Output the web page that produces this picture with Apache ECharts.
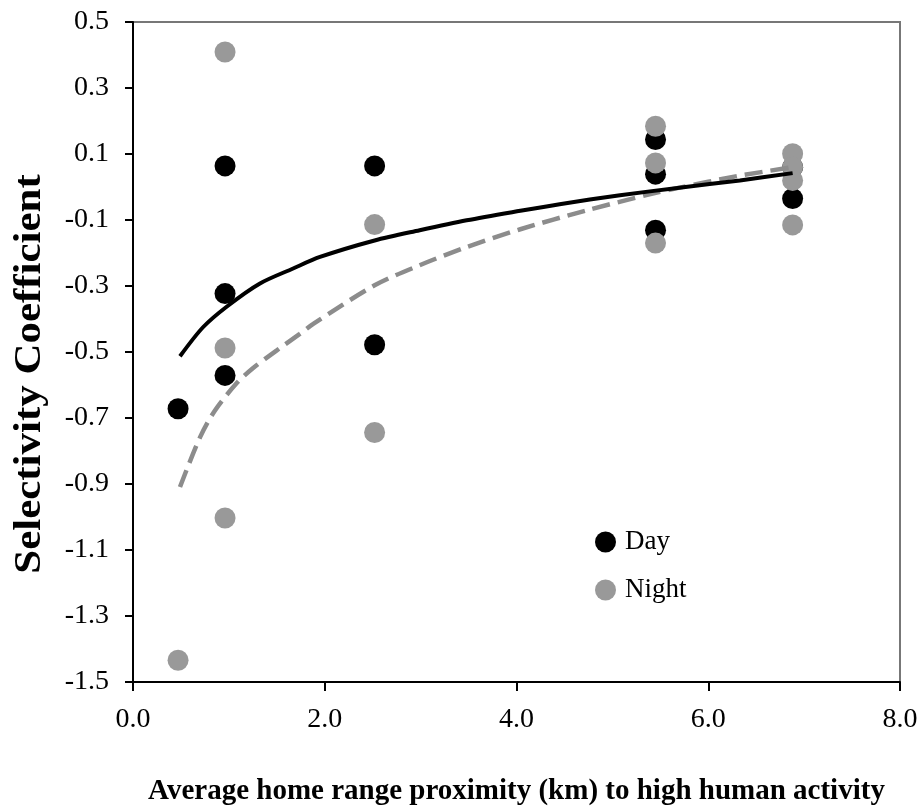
<!DOCTYPE html>
<html>
<head>
<meta charset="utf-8">
<style>
  html, body { margin: 0; padding: 0; background: #fff; }
  #main { width: 919px; height: 807px; }
</style>
<script src="https://cdn.jsdelivr.net/npm/echarts@6/dist/echarts.min.js"></script>
</head>
<body>
<div id="main"></div>
<script>
// scatter points
var dayX = [0.47, 0.96, 0.96, 0.96, 2.52, 2.52, 5.45, 5.45, 5.45, 6.88, 6.88];
var dayY = [-0.672, 0.064, -0.323, -0.571, 0.064, -0.478, 0.144, 0.039, -0.131, 0.06, -0.035];
var nightX = [0.47, 0.96, 0.96, 0.96, 2.52, 2.52, 5.45, 5.45, 5.45, 6.88, 6.88, 6.88, 6.88];
var nightY = [-1.434, 0.409, -0.488, -1.003, -0.114, -0.744, 0.184, 0.073, -0.170, 0.101, 0.06, 0.02, -0.115];

// trend lines
var dayCurveX = [0.49, 0.73, 0.98, 1.32, 1.67, 1.95, 2.52, 2.99, 3.48, 4.04, 4.45, 5.08, 5.70, 6.33, 6.88];
var dayCurveY = [-0.513, -0.425, -0.362, -0.293, -0.247, -0.212, -0.162, -0.131, -0.101, -0.072, -0.052, -0.025, -0.002, 0.020, 0.042];
var nightCurveX = [0.49, 0.70, 0.855, 1.08, 1.25, 1.50, 1.74, 1.88, 2.52, 2.99, 3.48, 4.04, 4.73, 5.42, 5.70, 6.30, 6.88];
var nightCurveY = [-0.909, -0.758, -0.677, -0.595, -0.549, -0.495, -0.445, -0.415, -0.298, -0.237, -0.182, -0.128, -0.071, -0.020, -0.002, 0.033, 0.06];

var xTicks = { min: 0, max: 8, step: 2 };
var yTicks = { min: -1.5, max: 0.5, step: 0.2 };

function pairs(xs, ys) {
    var out = [];
    for (var i = 0; i < xs.length; i++) out.push([xs[i], ys[i]]);
    return out;
}

var font = 'Liberation Serif';
var myChart = echarts.init(document.getElementById('main'));

var option = {
    backgroundColor: '#fff',
    animation: false,
    grid: {
        left: 133, right: 19, top: 22, bottom: 125,
        outerBoundsMode: 'none',
        containLabel: false,
        show: true, borderColor: '#777', borderWidth: 2
    },
    graphic: [{
        // y axis title, stretched a little along its length like the original
        type: 'text',
        x: 30, y: 374,
        rotation: Math.PI / 2,
        scaleX: 1.13,
        style: {
            text: 'Selectivity Coefficient',
            fontFamily: font, fontSize: 38, fontWeight: 'bold', fill: '#000',
            align: 'center', verticalAlign: 'middle'
        }
    }],
    legend: {
        orient: 'vertical',
        left: 590, top: 523,
        data: ['Day', 'Night'],
        icon: 'circle',
        itemWidth: 21, itemHeight: 21,
        itemGap: 20,
        textStyle: { fontFamily: font, fontSize: 27, color: '#000', lineHeight: 28, padding: [0, 0, 0, 4] }
    },
    xAxis: {
        type: 'value',
        min: xTicks.min, max: xTicks.max, interval: xTicks.step,
        name: 'Average home range proximity (km) to high human activity',
        nameLocation: 'middle',
        nameGap: 95,
        nameTextStyle: { fontFamily: font, fontSize: 29, fontWeight: 'bold', color: '#000' },
        axisLine: { onZero: false, lineStyle: { color: '#000', width: 2 } },
        axisTick: { show: true, inside: false, length: 9, lineStyle: { color: '#000', width: 2 } },
        axisLabel: {
            margin: 24, fontFamily: font, fontSize: 28, color: '#000',
            formatter: function (v) { return v.toFixed(1); }
        },
        splitLine: { show: false }
    },
    yAxis: {
        type: 'value',
        min: yTicks.min, max: yTicks.max, interval: yTicks.step,
        axisLine: { onZero: false, lineStyle: { color: '#000', width: 2 } },
        axisTick: { show: true, inside: false, length: 8, lineStyle: { color: '#000', width: 2 } },
        axisLabel: {
            margin: 24, fontFamily: font, fontSize: 28, color: '#000',
            formatter: function (v) { return v.toFixed(1); }
        },
        splitLine: { show: false }
    },
    series: [
        {
            name: 'Day', type: 'scatter', symbol: 'circle', symbolSize: 21,
            itemStyle: { color: '#000', opacity: 1 },
            data: pairs(dayX, dayY), z: 2
        },
        {
            name: 'Night', type: 'scatter', symbol: 'circle', symbolSize: 21,
            itemStyle: { color: '#999', opacity: 1 },
            data: pairs(nightX, nightY), z: 3
        },
        {
            name: 'Night trend', type: 'line', showSymbol: false, smooth: 0.3,
            lineStyle: { color: '#8c8c8c', width: 4.5, type: [18, 8] },
            data: pairs(nightCurveX, nightCurveY), z: 4
        },
        {
            name: 'Day trend', type: 'line', showSymbol: false, smooth: 0.3,
            lineStyle: { color: '#000', width: 4 },
            data: pairs(dayCurveX, dayCurveY), z: 5
        }
    ]
};

myChart.setOption(option);
</script>
</body>
</html>
